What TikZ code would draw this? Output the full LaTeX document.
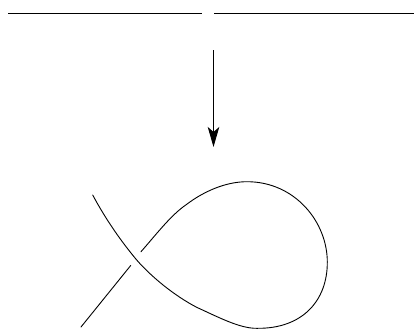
\documentclass[tikz,border=0pt]{standalone}
\usetikzlibrary{arrows.meta}
\tikzset{strand/.style={black,line width=0.9pt,line cap=round,line join=round},
downarrow/.style={strand,line cap=butt,-{Stealth[length=20pt,width=11.5pt,inset=5pt]}}}
\begin{document}
\begin{tikzpicture}[x=1pt,y=-1pt]
\useasboundingbox (0,0) rectangle (414,329);
\coordinate (la) at (8,13.5);
\coordinate (lb) at (201.5,13.5);
\coordinate (ra) at (214,13.5);
\coordinate (rb) at (414,13.5);
\coordinate (at) at (213.5,50);
\coordinate (ab) at (213.5,147);
\coordinate (sa) at (130.7,265.5);
\coordinate (sb) at (81,327);
\draw[strand,line cap=butt] (la) -- (lb);
\draw[strand,line cap=butt] (ra) -- (rb);
\draw[downarrow] (at) -- (ab);
\draw[strand] (sa) -- (sb);
\draw[strand] (92.7,195)
 .. controls (105,218) and (120,240) .. (136.7,260)
 .. controls (152,277.5) and (175,296) .. (196.7,307.3)
 .. controls (219,317.5) and (240,328.5) .. (256.7,328.3)
 .. controls (303,329) and (327.5,300) .. (327.3,262)
 .. controls (327.3,222) and (295,181.7) .. (247,181.7)
 .. controls (225,181.7) and (203,192) .. (186.7,204.3)
 .. controls (171,215) and (157,233.5) .. (141,251.7);
\end{tikzpicture}
\end{document}
